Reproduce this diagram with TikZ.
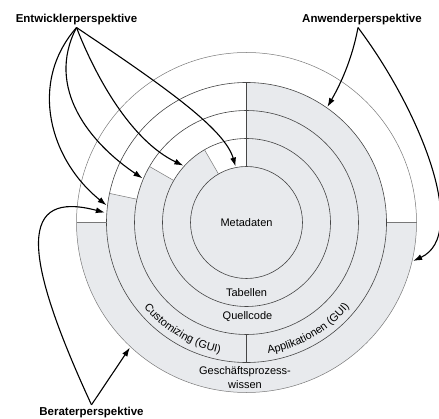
\documentclass[tikz,border=0pt]{standalone}
\usepackage{fontspec}
\setmainfont{Liberation Sans}
\usetikzlibrary{arrows.meta,decorations.text}
\definecolor{ringgray}{RGB}{232,234,237}
\definecolor{ringline}{RGB}{70,70,70}
\definecolor{outerline}{RGB}{120,120,120}
\tikzset{
  ringc/.style={draw=ringline, line width=0.6pt},
  outerc/.style={draw=outerline, line width=0.5pt},
  sepline/.style={draw=ringline, line width=0.5pt},
  lightsep/.style={draw=outerline, line width=0.5pt},
  persp/.style={font=\fontsize{11.5}{13}\selectfont\bfseries, inner sep=2pt},
  ringtext/.style={font=\fontsize{11}{14}\selectfont, inner sep=1pt, align=center},
  parrow/.style={draw=black, line width=1.1pt, -{Latex[length=9pt,width=6pt]}},
}
\begin{document}
\begin{tikzpicture}[x=1pt,y=1pt]
\useasboundingbox (0,0) rectangle (439,418);
\coordinate (O) at (246.5,195.5);
\begin{scope}[shift={(246.5,195.5)}]
  % fills
  \fill[ringgray] (0,0) circle[radius=140pt];
  \fill[ringgray] (180:140) arc[start angle=180,end angle=360,radius=140pt]
     -- (0:170) arc[start angle=0,end angle=-180,radius=170pt] -- cycle;
  \fill[white] (90:112) arc[start angle=90,end angle=168,radius=112pt]
     -- (168:140) arc[start angle=168,end angle=90,radius=140pt] -- cycle;
  \fill[white] (90:84) arc[start angle=90,end angle=150,radius=84pt]
     -- (150:112) arc[start angle=150,end angle=90,radius=112pt] -- cycle;
  \fill[white] (90:56) arc[start angle=90,end angle=120,radius=56pt]
     -- (120:84) arc[start angle=120,end angle=90,radius=84pt] -- cycle;
  % circles
  \path[ringc] (0,0) circle[radius=56pt];
  \path[ringc] (0,0) circle[radius=84pt];
  \path[ringc] (0,0) circle[radius=112pt];
  \path[ringc] (0,0) circle[radius=140pt];
  \path[outerc] (0,0) circle[radius=170pt];
  % separators
  \path[sepline] (90:56) -- (90:140);
  \path[sepline] (270:112) -- (270:140);
  \path[lightsep] (120:56) -- (120:84);
  \path[lightsep] (150:84) -- (150:112);
  \path[lightsep] (168:112) -- (168:140);
  \path[lightsep] (180:140) -- (180:170);
  \path[lightsep] (0:140) -- (0:170);
  % curved labels
  \path[decorate, decoration={text along path, text align=center,
     text={|\fontsize{11}{13}\selectfont|Customizing (GUI)}}]
     (204:133) arc[start angle=204,end angle=274,radius=133pt];
  \path[decorate, decoration={text along path, text align=center,
     text={|\fontsize{11}{13}\selectfont|Applikationen (GUI)}}]
     (264:133) arc[start angle=264,end angle=336,radius=133pt];
  % arrow targets
  \coordinate (e1) at (173:141);
  \coordinate (e2) at (157:113);
  \coordinate (e3) at (138:85);
  \coordinate (e4) at (101:57);
  \coordinate (a1) at (55:141);
  \coordinate (a2) at (-13:171);
  \coordinate (b1) at (176:142);
  \coordinate (b2) at (227:171);
\end{scope}
% ring texts
\node[ringtext] (meta) at (246.5,195) {Metadaten};
\node[ringtext] (tab) at (246.5,125) {Tabellen};
\node[ringtext] (quell) at (247.5,101) {Quellcode};
\node[ringtext] (gesch) at (245,40) {Geschäftsprozess-\\wissen};
% perspective labels
\node[persp] (ent) at (76.5,398) {Entwicklerperspektive};
\node[persp] (anw) at (362,398) {Anwenderperspektive};
\node[persp] (ber) at (91.5,5.6) {Beraterperspektive};
% arrows
\draw[parrow] (ent.south) .. controls (28,335) and (50,258) .. (e1);
\draw[parrow] (ent.south) .. controls (45,330) and (90,275) .. (e2);
\draw[parrow] (ent.south) .. controls (95,343) and (130,278) .. (e3);
\draw[parrow] (ent.south) .. controls (170,328) and (225,288) .. (e4);
\draw[parrow] ([xshift=-4pt]anw.south) .. controls (352,358) and (340,333) .. (a1);
\draw[parrow] ([xshift=-4pt]anw.south) .. controls (420,308) and (470,183) .. (a2);
\draw[parrow] (ber.north) .. controls (20,168) and (20,228) .. (b1);
\draw[parrow] (ber.north) -- (b2);
\end{tikzpicture}
\end{document}
